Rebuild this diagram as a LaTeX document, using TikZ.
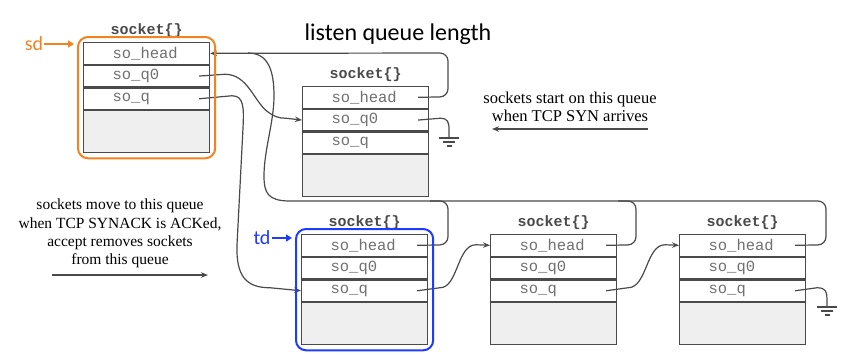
\documentclass[tikz,border=0pt]{standalone}
\usepackage{fontspec}
\setmainfont{Liberation Serif}
\newfontfamily\monof{Liberation Mono}
\newfontfamily\calf{Carlito}
\usetikzlibrary{arrows.meta,calc,fit}
\definecolor{ink}{HTML}{4A4A4A}
\definecolor{fieldtxt}{HTML}{707070}
\definecolor{shade}{HTML}{EFEFEF}
\definecolor{sdorange}{HTML}{F58220}
\definecolor{tdblue}{HTML}{1E3CFF}
\tikzset{
  field/.style={draw=ink, line width=1.2pt, minimum height=21.5pt, text width=126pt, inner sep=0pt, align=left,
    font=\monof\fontsize{15.5}{15.5}\selectfont, text=fieldtxt, anchor=north west, fill=white},
  shadebox/.style={draw=ink, line width=1.2pt, minimum height=42pt, minimum width=126pt, inner sep=0pt, fill=shade, anchor=north west},
  sockttl/.style={font=\monof\bfseries\fontsize{15}{15}\selectfont, text=ink, anchor=south, inner sep=0pt},
  ptr/.style={draw=ink, line width=1.2pt},
  ptrarrow/.style={ptr, -{Stealth[length=7pt,width=5.5pt]}},
  note/.style={align=center, text=black, inner sep=0pt},
  frame/.style={rounded corners=10pt, line width=2pt, inner sep=5pt},
  ground/.style={draw=ink, line width=1.2pt},
}
\newcommand\sockbox[3]{%
  \node[field] (#1-head) at (#2,#3) {\noindent\hspace*{29pt}so\_head};
  \node[field] (#1-q0) at (#1-head.south west) {\noindent\hspace*{29pt}so\_q0};
  \node[field] (#1-q) at (#1-q0.south west) {\noindent\hspace*{29pt}so\_q};
  \node[shadebox] (#1-rest) at (#1-q.south west) {};
  \node[sockttl] (#1-title) at ($(#1-head.north)+(0,-4)$) {socket\{\}};
}
\newcommand\groundsym[3]{% x, y, name
  \coordinate (#3) at (#1,#2);
  \draw[ground] ($(#3)+(-10,0)$) -- ($(#3)+(10,0)$);
  \draw[ground] ($(#3)+(-6,4)$) -- ($(#3)+(6,4)$);
  \draw[ground] ($(#3)+(-2.5,8)$) -- ($(#3)+(2.5,8)$);
}
\begin{document}
\begin{tikzpicture}[x=1pt,y=-1pt]
\useasboundingbox (0,0) rectangle (844,354);
\fill[white] (0,0) rectangle (844,354);

% sockets
\sockbox{L}{83}{42}
\sockbox{M}{302}{86}
\sockbox{T}{301}{234}
\sockbox{S2}{490}{234}
\sockbox{S3}{679}{234}

% so_head pointers back to the listening socket
\draw[ptrarrow, rounded corners=8pt] ($(M-head.east)+(-11,0)$) -- (448,96.75) -- (448,53) -- (L-head.east);
\draw[ptr, rounded corners=8pt] ($(S3-head.east)+(-11,0)$) -- (826,244.75) -- (826,201) -- (290,201);
\draw[ptr] (290,201) .. controls (268,201) and (264,193) .. (264,176)
  .. controls (264,150) and (274,122) .. (274,96)
  .. controls (274,70) and (268,53) .. (248,53);
\draw[ptr, rounded corners=8pt] ($(T-head.east)+(-11,0)$) -- (448,244.75) -- (448,201) -- (430,201);
\draw[ptr, rounded corners=8pt] ($(S2-head.east)+(-11,0)$) -- (636,244.75) -- (636,201) -- (618,201);

% so_q0 of listening socket -> incomplete queue
\draw[ptrarrow] ($(L-q0.east)+(-11,0)$) -- (225,74.25)
  .. controls (248,74.25) and (254,102) .. (268,112)
  .. controls (274,116.5) and (279,118.25) .. (286,118.25) -- (M-q0.west);
\draw[ptr] ($(M-q0.east)+(-11,0)$) -- (440,118.25) .. controls (448,118.25) and (449,122) .. (449,130) -- (449,138);
\groundsym{449}{138}{g1}

% so_q of listening socket -> completed queue
\draw[ptrarrow] ($(L-q.east)+(-11,0)$) -- (232,95.75)
  .. controls (244,95.75) and (244,108) .. (243,128)
  -- (237,245) .. controls (236,276) and (246,287.75) .. (270,287.75) -- (T-q.west);
\draw[ptrarrow] ($(T-q.east)+(-11,0)$) -- (440,287.75)
  .. controls (458,287.75) and (457,244.75) .. (476,244.75) -- (S2-head.west);
\draw[ptrarrow] ($(S2-q.east)+(-11,0)$) -- (628,287.75)
  .. controls (647,287.75) and (646,244.75) .. (665,244.75) -- (S3-head.west);
\draw[ptr] ($(S3-q.east)+(-11,0)$) -- (817,287.75) .. controls (826,287.75) and (827,292) .. (827,299) -- (827,307);
\groundsym{827}{307}{g2}

% texts
\node[font=\calf\fontsize{24}{24}\selectfont, anchor=base] (title) at (398,40) {listen queue length};
\node[note, font=\fontsize{16.5}{18}\selectfont] (synnote) at (570,107) {sockets start on this queue\\when TCP SYN arrives};
\coordinate (synA) at (648,129);
\coordinate (synB) at (492,129);
\draw[ptrarrow] (synA) -- (synB);
\node[note, font=\fontsize{15.5}{18.2}\selectfont] (acknote) at (120,233.5) {sockets move to this queue\\when TCP SYNACK is ACKed,\\accept removes sockets\\from this queue};
\coordinate (ackA) at (52,275);
\coordinate (ackB) at (208,275);
\draw[ptrarrow] (ackA) -- (ackB);

% highlight frames
\node[frame, draw=sdorange, fit=(L-head)(L-rest)] (sdframe) {};
\node[frame, draw=tdblue, fit=(T-head)(T-rest)] (tdframe) {};
\node[font=\calf\fontsize{20}{20}\selectfont, text=sdorange, inner sep=1pt] (sd) at (34,44) {sd};
\draw[sdorange, line width=2.5pt, -{Triangle[length=6pt,width=7pt]}, shorten >=3pt] (sd.east) -- (sd.east -| sdframe.west);
\node[font=\calf\fontsize{20}{20}\selectfont, text=tdblue, inner sep=1pt] (td) at (262,238) {td};
\draw[tdblue, line width=2.5pt, -{Triangle[length=6pt,width=7pt]}, shorten >=3pt] (td.east) -- (td.east -| tdframe.west);
\end{tikzpicture}
\end{document}
